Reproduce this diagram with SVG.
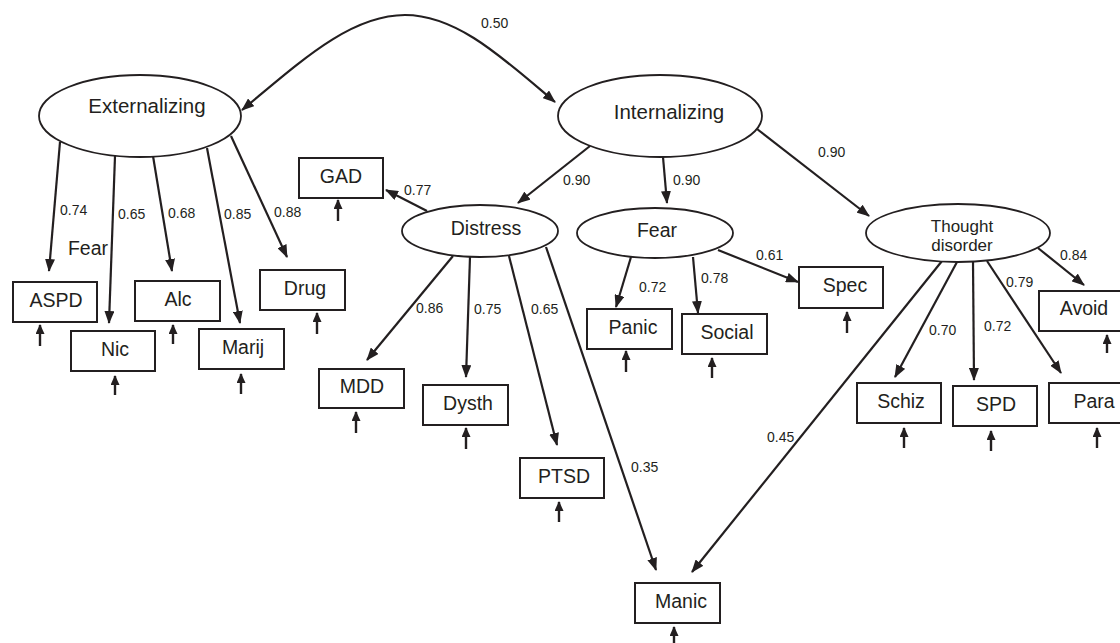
<svg xmlns="http://www.w3.org/2000/svg" width="1120" height="643" viewBox="0 0 1120 643">
<defs>
<marker id="ah" viewBox="0 0 13 10" refX="12" refY="5" markerWidth="13" markerHeight="10" markerUnits="userSpaceOnUse" orient="auto-start-reverse"><path d="M0,0 L13,5 L0,10 z" fill="#231f20"/></marker>
<marker id="sh" viewBox="0 0 10 9" refX="9" refY="4.5" markerWidth="10" markerHeight="9" markerUnits="userSpaceOnUse" orient="auto"><path d="M0,0 L10,4.5 L0,9 z" fill="#231f20"/></marker>
<style>
.lat{fill:#fff;stroke:#231f20;stroke-width:1.8}
.box{fill:#fff;stroke:#231f20;stroke-width:2}
.t{font-family:"Liberation Sans",Arial,sans-serif;font-size:19.5px;fill:#231f20;text-anchor:middle}
.tl{font-family:"Liberation Sans",Arial,sans-serif;font-size:20.5px;fill:#231f20;text-anchor:middle}
.ts{font-family:"Liberation Sans",Arial,sans-serif;font-size:17px;fill:#231f20;text-anchor:middle}
.n{font-family:"Liberation Sans",Arial,sans-serif;font-size:14px;fill:#231f20}
.c{fill:none;stroke:#231f20;stroke-width:2.2;marker-end:url(#ah)}
.r{fill:none;stroke:#231f20;stroke-width:2.4;marker-end:url(#sh)}
</style>
</defs>
<rect width="1120" height="643" fill="#fff"/>

<g id="connectors">
<path class="c" d="M242,110 C300,62 350,15 405,15 C458,15 505,60 555,102" marker-start="url(#ah)"/>
<line class="c" x1="60" y1="142" x2="49" y2="271"/>
<line class="c" x1="115" y1="156" x2="109" y2="323"/>
<line class="c" x1="153" y1="156" x2="172" y2="271"/>
<line class="c" x1="207" y1="148" x2="240" y2="323"/>
<line class="c" x1="231" y1="136" x2="287" y2="257"/>
<line class="c" x1="590" y1="146" x2="518" y2="203"/>
<line class="c" x1="663" y1="157" x2="667" y2="203"/>
<line class="c" x1="757" y1="129" x2="869" y2="216"/>
<line class="c" x1="427" y1="211" x2="386" y2="190"/>
<line class="c" x1="453" y1="256" x2="367" y2="360"/>
<line class="c" x1="470" y1="257" x2="466" y2="377"/>
<line class="c" x1="509" y1="256" x2="557" y2="445"/>
<line class="c" x1="546" y1="247" x2="656" y2="570"/>
<line class="c" x1="631" y1="257" x2="616" y2="307"/>
<line class="c" x1="693" y1="257" x2="698" y2="313"/>
<line class="c" x1="718" y1="250" x2="798" y2="282"/>
<line class="c" x1="1038" y1="248" x2="1084" y2="285"/>
<line class="c" x1="957" y1="262" x2="895" y2="377"/>
<line class="c" x1="973" y1="262" x2="974" y2="380"/>
<line class="c" x1="987" y1="261" x2="1061" y2="373"/>
<line class="c" x1="942" y1="261" x2="692" y2="572"/>
<line class="r" x1="40" y1="346" x2="40" y2="325"/>
<line class="r" x1="115" y1="395" x2="115" y2="376"/>
<line class="r" x1="173" y1="344" x2="173" y2="325"/>
<line class="r" x1="241" y1="394" x2="241" y2="374"/>
<line class="r" x1="317" y1="334" x2="317" y2="313"/>
<line class="r" x1="338" y1="221" x2="338" y2="200"/>
<line class="r" x1="356" y1="433" x2="356" y2="412"/>
<line class="r" x1="466" y1="449" x2="466" y2="428"/>
<line class="r" x1="559" y1="522" x2="559" y2="502"/>
<line class="r" x1="626" y1="372" x2="626" y2="351"/>
<line class="r" x1="712" y1="378" x2="712" y2="358"/>
<line class="r" x1="847" y1="333" x2="847" y2="312"/>
<line class="r" x1="1107" y1="353" x2="1107" y2="335"/>
<line class="r" x1="904" y1="448" x2="904" y2="428"/>
<line class="r" x1="991" y1="451" x2="991" y2="431"/>
<line class="r" x1="1097" y1="448" x2="1097" y2="428"/>
<line class="r" x1="674" y1="644" x2="674" y2="627"/>
</g>

<g id="labels">
<text class="n" x="481" y="28">0.50</text>
<text class="n" x="60" y="215">0.74</text>
<text class="n" x="118" y="219">0.65</text>
<text class="n" x="168" y="218">0.68</text>
<text class="n" x="224" y="219">0.85</text>
<text class="n" x="274" y="217">0.88</text>
<text class="n" x="563" y="185">0.90</text>
<text class="n" x="673" y="185">0.90</text>
<text class="n" x="818" y="157">0.90</text>
<text class="n" x="404" y="195">0.77</text>
<text class="n" x="416" y="313">0.86</text>
<text class="n" x="474" y="314">0.75</text>
<text class="n" x="531" y="314">0.65</text>
<text class="n" x="631" y="472">0.35</text>
<text class="n" x="639" y="292">0.72</text>
<text class="n" x="701" y="283">0.78</text>
<text class="n" x="756" y="260">0.61</text>
<text class="n" x="1060" y="260">0.84</text>
<text class="n" x="929" y="335">0.70</text>
<text class="n" x="984" y="331">0.72</text>
<text class="n" x="1006" y="287">0.79</text>
<text class="n" x="767" y="442">0.45</text>
<text class="t" x="88" y="255">Fear</text>
</g>

<g id="externalizing"><ellipse class="lat" cx="140" cy="116" rx="101" ry="41"/><text class="tl" x="147" y="113">Externalizing</text></g>
<g id="internalizing"><ellipse class="lat" cx="660" cy="116" rx="102" ry="41"/><text class="tl" x="669" y="119">Internalizing</text></g>
<g id="distress"><ellipse class="lat" cx="480" cy="231" rx="78" ry="26"/><text class="t" x="486" y="235">Distress</text></g>
<g id="fear"><ellipse class="lat" cx="655" cy="233" rx="78" ry="25"/><text class="t" x="657" y="237">Fear</text></g>
<g id="thought"><ellipse class="lat" cx="958" cy="233" rx="92" ry="29"/><text class="ts" x="962" y="232">Thought</text><text class="ts" x="962" y="251">disorder</text></g>

<g id="aspd"><rect class="box" x="13" y="282" width="84" height="40"/><text class="t" x="56" y="307">ASPD</text></g>
<g id="nic"><rect class="box" x="71" y="331" width="84" height="40"/><text class="t" x="115" y="356">Nic</text></g>
<g id="alc"><rect class="box" x="135" y="281" width="85" height="40"/><text class="t" x="178" y="306">Alc</text></g>
<g id="marij"><rect class="box" x="199" y="329" width="85" height="40"/><text class="t" x="243" y="354">Marij</text></g>
<g id="drug"><rect class="box" x="260" y="270" width="85" height="40"/><text class="t" x="305" y="295">Drug</text></g>
<g id="gad"><rect class="box" x="299" y="158" width="84" height="40"/><text class="t" x="341" y="183">GAD</text></g>
<g id="mdd"><rect class="box" x="319" y="369" width="85" height="39"/><text class="t" x="362" y="393">MDD</text></g>
<g id="dysth"><rect class="box" x="423" y="385" width="85" height="40"/><text class="t" x="468" y="410">Dysth</text></g>
<g id="ptsd"><rect class="box" x="520" y="458" width="84" height="40"/><text class="t" x="564" y="483">PTSD</text></g>
<g id="panic"><rect class="box" x="587" y="309" width="85" height="40"/><text class="t" x="633" y="334">Panic</text></g>
<g id="social"><rect class="box" x="682" y="314" width="85" height="40"/><text class="t" x="727" y="339">Social</text></g>
<g id="spec"><rect class="box" x="799" y="267" width="84" height="41"/><text class="t" x="845" y="292">Spec</text></g>
<g id="avoid"><rect class="box" x="1039" y="291" width="90" height="40"/><text class="t" x="1084" y="315">Avoid</text></g>
<g id="schiz"><rect class="box" x="857" y="383" width="84" height="40"/><text class="t" x="901" y="408">Schiz</text></g>
<g id="spd"><rect class="box" x="953" y="386" width="84" height="40"/><text class="t" x="996" y="411">SPD</text></g>
<g id="para"><rect class="box" x="1049" y="383" width="90" height="40"/><text class="t" x="1094" y="408">Para</text></g>
<g id="manic"><rect class="box" x="635" y="583" width="85" height="40"/><text class="t" x="681" y="608">Manic</text></g>
</svg>
